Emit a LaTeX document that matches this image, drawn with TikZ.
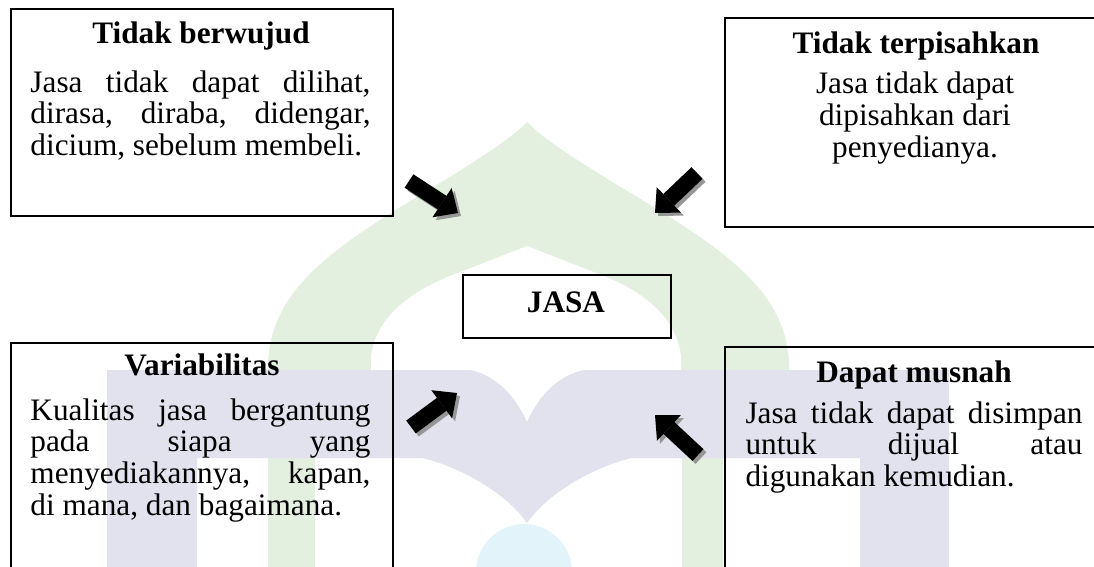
\documentclass[tikz,border=0pt]{standalone}
\usepackage{fontspec}
\setmainfont{Liberation Serif}
\usetikzlibrary{arrows.meta}
\definecolor{wmgreen}{RGB}{227,239,223}
\definecolor{wmblue}{RGB}{226,226,238}
\definecolor{wmcyan}{RGB}{226,244,250}
\definecolor{bayanggray}{RGB}{150,150,150}
\hyphenpenalty=10000
\exhyphenpenalty=10000
\tolerance=10000
\hbadness=10000
\tikzset{
  kotak/.style={draw, line width=0.8pt, inner sep=0pt, anchor=north west},
  judul/.style={font=\fontsize{12.5}{12.7}\selectfont\bfseries, inner sep=0pt, anchor=base},
  isi/.style={font=\fontsize{12.5}{12.7}\selectfont, inner sep=0pt, text width=136pt, align=justify, anchor=base west},
  tengah/.style={font=\fontsize{12.5}{12.7}\selectfont, inner sep=0pt, align=center, anchor=base},
  panah/.style={line width=6.4pt, -{Triangle[length=7.6pt,width=14pt,line width=0pt]}},
  bayang/.style={panah, color=bayanggray, transform canvas={shift={(1.2pt,-1.2pt)}}}
}
\begin{document}
\begin{tikzpicture}[x=0.4pt, y=-0.4pt]
    \clip (0,0) rectangle (1094,567);
    \fill[white] (0,0) rectangle (1094,567);
    % watermark
    \fill[wmgreen] (268,440) -- (268,362) .. controls (272,290) and (330,250) .. (420,195) .. controls (470,165) and (510,140) .. (527,122) .. controls (544,140) and (584,165) .. (634,195) .. controls (724,250) and (785,290) .. (789,362) -- (789,440) -- cycle;
    \fill[white] (371,440) -- (371,357) .. controls (375,318) and (410,292) .. (450,276) -- (527,246) -- (604,276) .. controls (644,292) and (677,318) .. (681,357) -- (681,440) -- cycle;
    \fill[wmgreen] (268,440) rectangle (315,567);
    \fill[wmgreen] (682,440) rectangle (723,567);
    \fill[wmblue] (107,567) -- (107,370) -- (470,370) .. controls (495,375) and (515,395) .. (527,422) .. controls (539,395) and (559,375) .. (584,370) -- (949,370) -- (949,567) -- (860,567) -- (860,458) -- (632,458) .. controls (600,465) and (550,490) .. (527,523) .. controls (504,490) and (454,465) .. (422,458) -- (197,458) -- (197,567) -- cycle;
    \fill[wmcyan] (524,572) circle [radius=48];
    % kotak
    \node[kotak, minimum width=152.8pt, minimum height=82.8pt] (bw) at (10,8) {};
    \node[kotak, minimum width=154.4pt, minimum height=83.6pt] (tp) at (724,17) {};
    \node[kotak, minimum width=152.8pt, minimum height=103.2pt] (va) at (10,342) {};
    \node[kotak, minimum width=154.4pt, minimum height=101.6pt] (dm) at (724,346) {};
    \node[kotak, minimum width=83.2pt, minimum height=25.2pt] (js) at (462,274) {};
    % teks
    \node[judul] (jbw) at (201,43) {Tidak berwujud};
    \node[isi] (tbw) at (30,92) {Jasa tidak dapat dilihat,\linebreak dirasa, diraba, didengar,\linebreak dicium, sebelum membeli.};
    \node[judul] (jtp) at (916,53) {Tidak terpisahkan};
    \node[tengah] (ttp) at (915,157) {Jasa tidak dapat\\dipisahkan dari\\penyedianya.};
    \node[judul] (jva) at (202,375) {Variabilitas};
    \node[isi] (tva) at (30,420) {Kualitas jasa bergantung\linebreak pada siapa yang\linebreak menyediakannya, kapan,\linebreak di mana, dan bagaimana.};
    \node[judul] (jdm) at (914,382) {Dapat musnah};
    \node[isi, text width=134.8pt] (tdm) at (745,423) {Jasa tidak dapat disimpan\linebreak untuk dijual atau\linebreak digunakan kemudian.};
    \node[judul] (jjs) at (566,312) {JASA};
    % panah
    \coordinate (p1) at (409,181);
    \coordinate (q1) at (458,213);
    \coordinate (p2) at (697,173);
    \coordinate (q2) at (655,213);
    \coordinate (p3) at (411,427);
    \coordinate (q3) at (457,393);
    \coordinate (p4) at (698,455);
    \coordinate (q4) at (655,415);
    \foreach \a/\b in {p1/q1, p2/q2, p3/q3, p4/q4} {
        \draw[bayang] (\a) -- (\b);
        \draw[panah] (\a) -- (\b);
    }
\end{tikzpicture}
\end{document}
